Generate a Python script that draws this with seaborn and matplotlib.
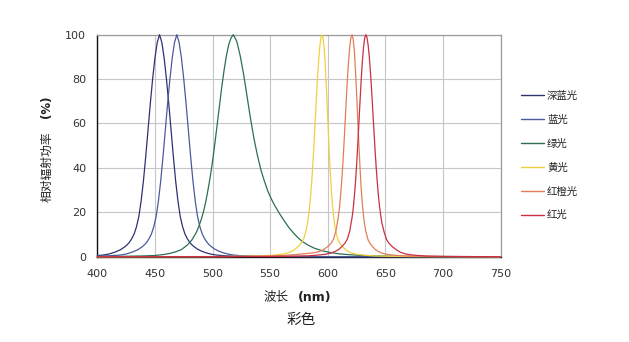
import matplotlib
matplotlib.use("Agg")
import matplotlib.pyplot as plt
import pandas as pd
import seaborn as sns
from matplotlib.lines import Line2D
from matplotlib.font_manager import FontProperties

# ---------------- data ----------------
series_names = ["深蓝光", "蓝光", "绿光", "黄光", "红橙光", "红光"]
series_colors = ["#2e3370", "#4a5a9c", "#2d6e50", "#f0d040", "#e27e56", "#cc2f45"]

x_ticks = [400, 450, 500, 550, 600, 650, 700, 750]
y_ticks = [0, 20, 40, 60, 80, 100]

deep_blue_wl = [400, 405, 410, 415, 420, 424, 426, 428, 430, 432, 434, 436, 438, 440,
                442, 444, 446, 448, 450, 452, 454, 456, 458, 460, 462, 464, 466, 468,
                470, 472, 474, 476, 478, 480, 482, 484, 487, 490, 494, 499, 504, 510,
                520, 540, 600, 750]
deep_blue = [0.5, 0.75, 1.2, 2.0, 3.1, 4.5, 5.4, 6.6, 8.2, 10.3, 13.5, 18, 25, 34,
             45, 57, 69, 80, 89.5, 96.5, 100, 96.5, 89.5, 80, 69, 57, 45, 34,
             25, 18, 13.5, 10.3, 8.2, 6.6, 5.4, 4.5, 3.4, 2.6, 1.8, 1.1, 0.7, 0.45,
             0.25, 0.1, 0.02, 0]

blue_wl = [400, 410, 420, 425, 430, 435, 439, 441, 443, 445, 447, 449, 451, 453,
           455, 457, 459, 461, 463, 465, 467, 469, 471, 473, 475, 477, 479, 481,
           483, 485, 487, 489, 491, 493, 495, 497, 499, 502, 505, 509, 514, 519,
           525, 535, 560, 620, 750]
blue = [0.25, 0.4, 0.75, 1.2, 2.0, 3.1, 4.5, 5.4, 6.6, 8.2, 10.3, 13.5, 18, 25,
        34, 45, 57, 69, 80, 89.5, 96.5, 100, 96.5, 89.5, 80, 69, 57, 45,
        34, 25, 18, 13.5, 10.3, 8.2, 6.6, 5.4, 4.5, 3.4, 2.6, 1.8, 1.1, 0.7,
        0.45, 0.25, 0.1, 0.02, 0]

green_wl = [400, 420, 440, 450, 458, 463, 468, 473, 478, 482, 486, 488, 490, 492,
            494, 496, 498, 500, 502, 504, 506, 508, 510, 512, 514, 516, 518, 521,
            524, 527, 530, 533, 536, 539, 542, 545, 548, 551, 554, 558, 562, 566,
            570, 574, 578, 583, 588, 595, 602, 609, 616, 628, 648, 678, 750]
green = [0.05, 0.15, 0.35, 0.55, 1.0, 1.5, 2.2, 3.2, 5.2, 7.5, 11, 13.5, 16.5, 20,
         24.5, 30, 36, 43, 51, 59.5, 68, 76.5, 84, 90.5, 95.5, 98.5, 100, 97,
         90.5, 82, 72, 62, 53, 45.5, 39, 34, 29.5, 26, 23, 19.5, 16.3, 13.3,
         10.8, 8.6, 6.8, 5.2, 3.9, 2.7, 1.9, 1.35, 1.0, 0.6, 0.3, 0.1, 0]

yellow_wl = [400, 500, 515, 530, 543, 551, 557, 561, 565, 568, 571, 573, 575, 577,
             579, 581, 582, 583, 584, 585, 586, 587, 588, 589, 590, 591, 592, 593,
             594, 595, 596, 597, 598, 599, 600, 601, 602, 603, 604, 605, 606, 607,
             608, 609, 610, 612, 614, 617, 621, 625, 631, 640, 655, 675, 750]
yellow = [0, 0.05, 0.1, 0.2, 0.37, 0.6, 0.9, 1.2, 1.7, 2.3, 3.1, 4.0, 5, 6.2,
          8, 11.5, 14, 17.5, 21.5, 27, 33.5, 41.5, 50.5, 60.5, 70.5, 80, 88, 94.5,
          98.5, 100, 98, 93, 84, 73.5, 61.5, 50, 39.5, 30.5, 23.5, 18.3, 14.3, 11.3,
          9.2, 7.5, 6.5, 5, 3.8, 2.5, 1.6, 1.1, 0.7, 0.35, 0.17, 0.06, 0]

orange_wl = [400, 501, 521, 541, 561, 571, 579, 585, 589, 593, 596, 599, 601, 603,
             605, 607, 609, 610, 611, 612, 613, 614, 615, 616, 617, 618, 619, 620,
             621, 622, 623, 624, 625, 626, 627, 628, 629, 630, 631, 632, 633, 635,
             637, 639, 641, 644, 647, 650, 654, 659, 666, 676, 691, 711, 750]
orange = [0, 0.06, 0.12, 0.25, 0.55, 0.9, 1.3, 1.6, 1.9, 2.4, 3.1, 4.2, 5, 6.2,
          8, 11.5, 17.5, 21.5, 27, 33.5, 41.5, 50.5, 60.5, 70.5, 80, 88, 94.5, 98.5,
          100, 98, 93, 84, 73.5, 61.5, 50, 39.5, 30.5, 23.5, 18.3, 14.3, 11.3, 7.5,
          5.7, 4.5, 3.3, 2.3, 1.6, 1.2, 0.85, 0.6, 0.35, 0.2, 0.09, 0.04, 0]

red_wl = [400, 483, 523, 553, 573, 583, 591, 598, 603, 607, 610, 613, 615, 617,
          619, 621, 622, 623, 624, 625, 626, 627, 628, 629, 630, 631, 632, 633,
          634, 635, 636, 637, 638, 639, 640, 641, 642, 643, 644, 645, 646, 647,
          649, 651, 653, 656, 659, 663, 667, 671, 678, 686, 703, 723, 750]
red = [0, 0.02, 0.04, 0.1, 0.25, 0.4, 0.7, 1.1, 1.7, 2.5, 3.5, 5, 6.2, 8,
       11.5, 17.5, 21.5, 27, 33.5, 41.5, 50.5, 60.5, 70.5, 80, 88, 94.5, 98.5, 100,
       98.7, 95.3, 90, 83, 75, 66, 57, 48, 40, 33, 27, 22, 18.3, 15,
       10.8, 7.7, 6.1, 4.5, 3.3, 2.0, 1.3, 0.9, 0.55, 0.3, 0.12, 0.05, 0]

all_wl = [deep_blue_wl, blue_wl, green_wl, yellow_wl, orange_wl, red_wl]
all_val = [deep_blue, blue, green, yellow, orange, red]

frames = [pd.DataFrame({"wl": w, "val": v, "series": n})
          for n, w, v in zip(series_names, all_wl, all_val)]
df = pd.concat(frames, ignore_index=True)

# ---------------- figure ----------------
sns.set_theme(style="white")
plt.rcParams["font.family"] = ["DejaVu Sans", "Noto Sans CJK SC"]

W, H = 629, 342
fig = plt.figure(figsize=(W / 100, H / 100), dpi=100)
fig.patch.set_facecolor("white")
ax = fig.add_axes([97.3 / W, 1 - 256.7 / H, (500.7 - 97.3) / W, (256.7 - 34.7) / H])

sns.lineplot(data=df, x="wl", y="val", hue="series", hue_order=series_names,
             palette=series_colors, estimator=None, sort=True, linewidth=0.9,
             ax=ax, legend=False)
for ln in ax.get_lines():
    ln.set_clip_on(False)
    ln.set_zorder(3)

ax.set_xlim(400, 750)
ax.set_ylim(0, 100)
ax.set_xticks(x_ticks)
ax.set_yticks(y_ticks)
ax.set_xlabel("")
ax.set_ylabel("")
ax.grid(True, color="#c6c6c6", linewidth=0.8)
ax.set_axisbelow(True)
ax.set_facecolor("white")

for s in ["left", "bottom"]:
    ax.spines[s].set_color("#111111")
    ax.spines[s].set_linewidth(1.0)
for s in ["top", "right"]:
    ax.spines[s].set_color("#9a9a9a")
    ax.spines[s].set_linewidth(0.9)

ax.tick_params(axis="both", which="major", direction="out", color="#111111",
               width=0.8, labelsize=8, labelcolor="#333333")
ax.tick_params(axis="x", length=3, pad=6)
ax.tick_params(axis="y", length=4, pad=4)

# axis titles
cjk = ["Noto Sans CJK SC", "DejaVu Sans"]
fig.text(47 / W, 1 - 166.7 / H, "相对辐射功率", rotation=90, ha="center", va="center",
         family=cjk, fontsize=8.5, color="#222222")
fig.text(47 / W, 1 - 106.5 / H, "(%)", rotation=90, ha="center", va="center",
         family="DejaVu Sans", fontweight="bold", fontsize=8.5, color="#222222")

fig.text(276.5 / W, 1 - 297 / H, "波长", ha="center", va="center",
         family=cjk, fontsize=9, color="#222222")
fig.text(314.5 / W, 1 - 297 / H, "(nm)", ha="center", va="center",
         family="DejaVu Sans", fontweight="bold", fontsize=9, color="#222222")
fig.text(301.5 / W, 1 - 320 / H, "彩色", ha="center", va="center",
         family=cjk, fontsize=10.5, color="#222222")

# legend
handles = [Line2D([0], [0], color=c, lw=1.0) for c in series_colors]
ax.legend(handles, series_names, loc="upper left",
          bbox_to_anchor=(521 / W, 1 - 91 / H), bbox_transform=fig.transFigure,
          frameon=False, borderpad=0, borderaxespad=0, handlelength=2.2,
          handletextpad=0.3, labelspacing=1.33,
          prop=FontProperties(family=cjk, size=7.5), labelcolor="#222222")

fig.savefig("out.png", dpi=100, facecolor="white")
